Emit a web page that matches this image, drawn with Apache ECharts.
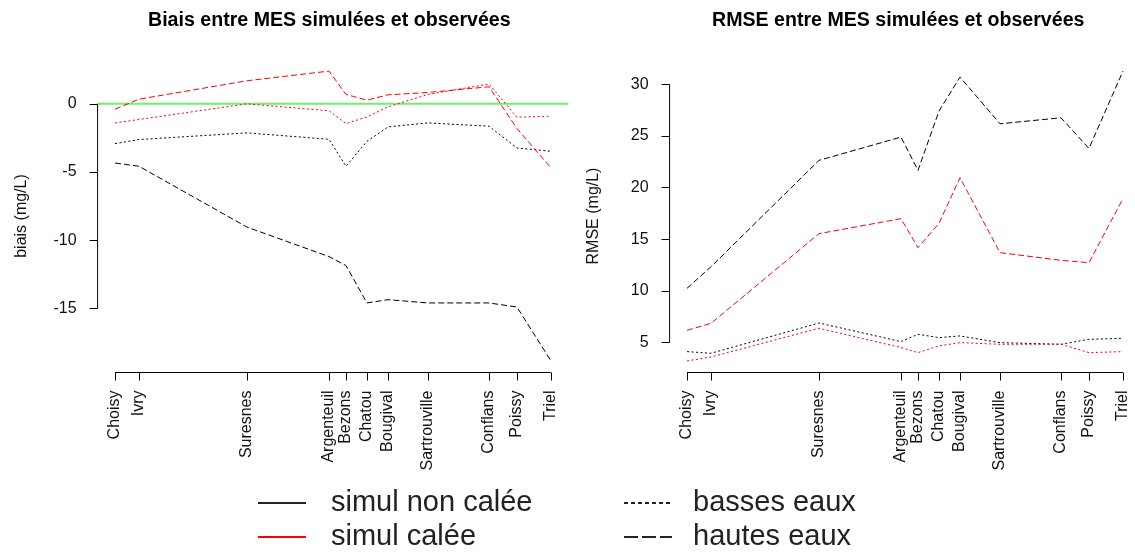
<!DOCTYPE html>
<html>
<head>
<meta charset="utf-8">
<script src="https://cdn.jsdelivr.net/npm/echarts@6/dist/echarts.min.js"></script>
<style>
html,body{margin:0;padding:0;background:#fff;}
#chart{width:1135px;height:552px;}
</style>
</head>
<body>
<div id="chart"></div>
<script>
// ---- Data ----
const stations = ['Choisy','Ivry','Suresnes','Argenteuil','Bezons','Chatou','Bougival','Sartrouville','Conflans','Poissy','Triel'];
const distances = [0, 24, 132, 214, 231, 252, 273, 313, 374, 402, 436];

const biaisNonCaleeBasses = [-2.92, -2.62, -2.13, -2.6, -4.58, -2.75, -1.69, -1.4, -1.64, -3.24, -3.48];
const biaisNonCaleeHautes = [-4.34, -4.58, -9.04, -11.2, -11.86, -14.6, -14.36, -14.6, -14.6, -14.9, -18.85];
const biaisCaleeBasses = [-1.4, -1.15, 0.0, -0.51, -1.45, -0.96, -0.22, 0.69, 1.45, -0.98, -0.91];
const biaisCaleeHautes = [-0.39, 0.34, 1.69, 2.4, 0.69, 0.27, 0.66, 0.83, 1.25, -1.81, -4.7];

const rmseNonCaleeBasses = [4.13, 3.97, 6.9, 5.1, 5.81, 5.48, 5.65, 5.0, 4.84, 5.32, 5.42];
const rmseNonCaleeHautes = [10.26, 12.35, 22.65, 24.9, 21.68, 27.42, 30.71, 26.19, 26.77, 23.8, 31.29];
const rmseCaleeBasses = [3.23, 3.61, 6.39, 4.52, 4.03, 4.68, 5.0, 4.84, 4.84, 4.03, 4.13];
const rmseCaleeHautes = [6.19, 6.87, 15.55, 17.0, 14.19, 16.55, 20.97, 13.71, 12.97, 12.74, 18.94];

const biaisTicks = [-15, -10, -5, 0];
const rmseTicks = [5, 10, 15, 20, 25, 30];

const titles = ['Biais entre MES simulées et observées', 'RMSE entre MES simulées et observées'];
const yNames = ['biais (mg/L)', 'RMSE (mg/L)'];
const legendNames = ['simul non calée', 'simul calée', 'basses eaux', 'hautes eaux'];

// ---- Helpers ----
const FONT = '"Liberation Sans", Arial, Helvetica, sans-serif';
function extent(arrs) {
  const all = [].concat(...arrs);
  const mn = Math.min(...all), mx = Math.max(...all), p = (mx - mn) * 0.04;
  return [mn - p, mx + p];
}
const xExt = extent([distances]);
const yExtB = extent([biaisNonCaleeBasses, biaisNonCaleeHautes, biaisCaleeBasses, biaisCaleeHautes]);
const yExtR = extent([rmseNonCaleeBasses, rmseNonCaleeHautes, rmseCaleeBasses, rmseCaleeHautes]);

const DOT = [2, 2.5];
const DASH = [6, 3];

function dataLine(name, vals, color, type, idx) {
  return {
    type: 'line', name: name, xAxisIndex: idx, yAxisIndex: idx,
    data: distances.map((d, i) => [d, vals[i]]),
    symbol: 'none', silent: true, z: 3,
    lineStyle: { color: color, width: 1, type: type },
    itemStyle: { color: color }
  };
}
function axisLines(idx, yExt, ticks) {
  return [
    { type: 'line', name: 'xaxisline' + idx, xAxisIndex: idx, yAxisIndex: idx, clip: false, silent: true, symbol: 'none', z: 4,
      data: [[distances[0], yExt[0]], [distances[distances.length - 1], yExt[0]]],
      lineStyle: { color: '#000', width: 1 } },
    { type: 'line', name: 'yaxisline' + idx, xAxisIndex: idx, yAxisIndex: idx, clip: false, silent: true, symbol: 'none', z: 4,
      data: [[xExt[0], ticks[0]], [xExt[0], ticks[ticks.length - 1]]],
      lineStyle: { color: '#000', width: 1 } }
  ];
}
function xAxis(idx) {
  return {
    type: 'value', gridIndex: idx, min: xExt[0], max: xExt[1],
    axisLine: { show: false, onZero: false }, splitLine: { show: false },
    axisTick: { show: true, customValues: distances, length: 8, lineStyle: { color: '#000' } },
    axisLabel: {
      customValues: distances, rotate: 90, margin: 18, fontSize: 16, fontFamily: FONT, color: '#111',
      formatter: function (v) { const i = distances.findIndex(d => Math.abs(d - v) < 1e-6); return i >= 0 ? stations[i] : ''; }
    }
  };
}
function yAxis(idx, yExt, ticks, name) {
  return {
    type: 'value', gridIndex: idx, min: yExt[0], max: yExt[1],
    axisLine: { show: false, onZero: false }, splitLine: { show: false },
    axisTick: { show: true, customValues: ticks, length: 8, lineStyle: { color: '#000' } },
    axisLabel: { customValues: ticks, margin: 21, fontSize: 16, fontFamily: FONT, color: '#111' },
    name: name, nameLocation: 'middle', nameGap: 68,
    nameTextStyle: { fontSize: 16, fontFamily: FONT, color: '#111' }
  };
}
function legendSeries(name, color, type) {
  return { type: 'line', name: name, xAxisIndex: 0, yAxisIndex: 0, data: [], symbol: 'none',
    lineStyle: { color: color, width: 2, type: type },
    itemStyle: { color: 'rgba(0,0,0,0)', borderColor: 'rgba(0,0,0,0)', borderWidth: 0 } };
}

const series = [
  // green zero line (left panel)
  { type: 'line', name: 'zero', xAxisIndex: 0, yAxisIndex: 0, silent: true, symbol: 'none', z: 2,
    data: [[xExt[0], 0], [xExt[1], 0]], lineStyle: { color: '#6fef6f', width: 2 } },
  dataLine('b-ncb', biaisNonCaleeBasses, '#000', DOT, 0),
  dataLine('b-nch', biaisNonCaleeHautes, '#000', DASH, 0),
  dataLine('b-cb', biaisCaleeBasses, '#ff0000', DOT, 0),
  dataLine('b-ch', biaisCaleeHautes, '#ff0000', DASH, 0),
  dataLine('r-ncb', rmseNonCaleeBasses, '#000', DOT, 1),
  dataLine('r-nch', rmseNonCaleeHautes, '#000', DASH, 1),
  dataLine('r-cb', rmseCaleeBasses, '#ff0000', DOT, 1),
  dataLine('r-ch', rmseCaleeHautes, '#ff0000', DASH, 1),
  ...axisLines(0, yExtB, biaisTicks),
  ...axisLines(1, yExtR, rmseTicks),
  legendSeries(legendNames[0], '#222', 'solid'),
  legendSeries(legendNames[1], '#ff0000', 'solid'),
  legendSeries(legendNames[2], '#222', [4, 3]),
  legendSeries(legendNames[3], '#222', [14, 4])
];

function legend(left, names, pad) {
  return {
    orient: 'vertical', left: left, top: 488, height: 100, width: 300, padding: 0,
    itemWidth: 48, itemHeight: 12, itemGap: 4,
    selectedMode: false,
    itemStyle: { opacity: 0 },
    textStyle: { fontSize: 29, fontFamily: FONT, color: '#222', lineHeight: 30, padding: [0, 0, 0, pad] },
    data: names.map(n => ({ name: n }))
  };
}

const option = {
  animation: false,
  backgroundColor: '#fff',
  title: [
    { text: titles[0], left: 148, top: 11, padding: 0, textStyle: { fontSize: 19.6, fontWeight: 'bold', fontFamily: FONT, color: '#000' } },
    { text: titles[1], left: 712, top: 11, padding: 0, textStyle: { fontSize: 19.6, fontWeight: 'bold', fontFamily: FONT, color: '#000' } }
  ],
  grid: [
    { left: 97.6, top: 59.5, width: 470.8, height: 313, outerBoundsMode: 'none' },
    { left: 669.6, top: 59.5, width: 470.8, height: 313, outerBoundsMode: 'none' }
  ],
  xAxis: [xAxis(0), xAxis(1)],
  yAxis: [yAxis(0, yExtB, biaisTicks, yNames[0]), yAxis(1, yExtR, rmseTicks, yNames[1])],
  legend: [legend(257, legendNames.slice(0, 2), 20), legend(623, legendNames.slice(2, 4), 16)],
  series: series
};

const chart = echarts.init(document.getElementById('chart'), null, { renderer: 'canvas' });
chart.setOption(option);
</script>
</body>
</html>
